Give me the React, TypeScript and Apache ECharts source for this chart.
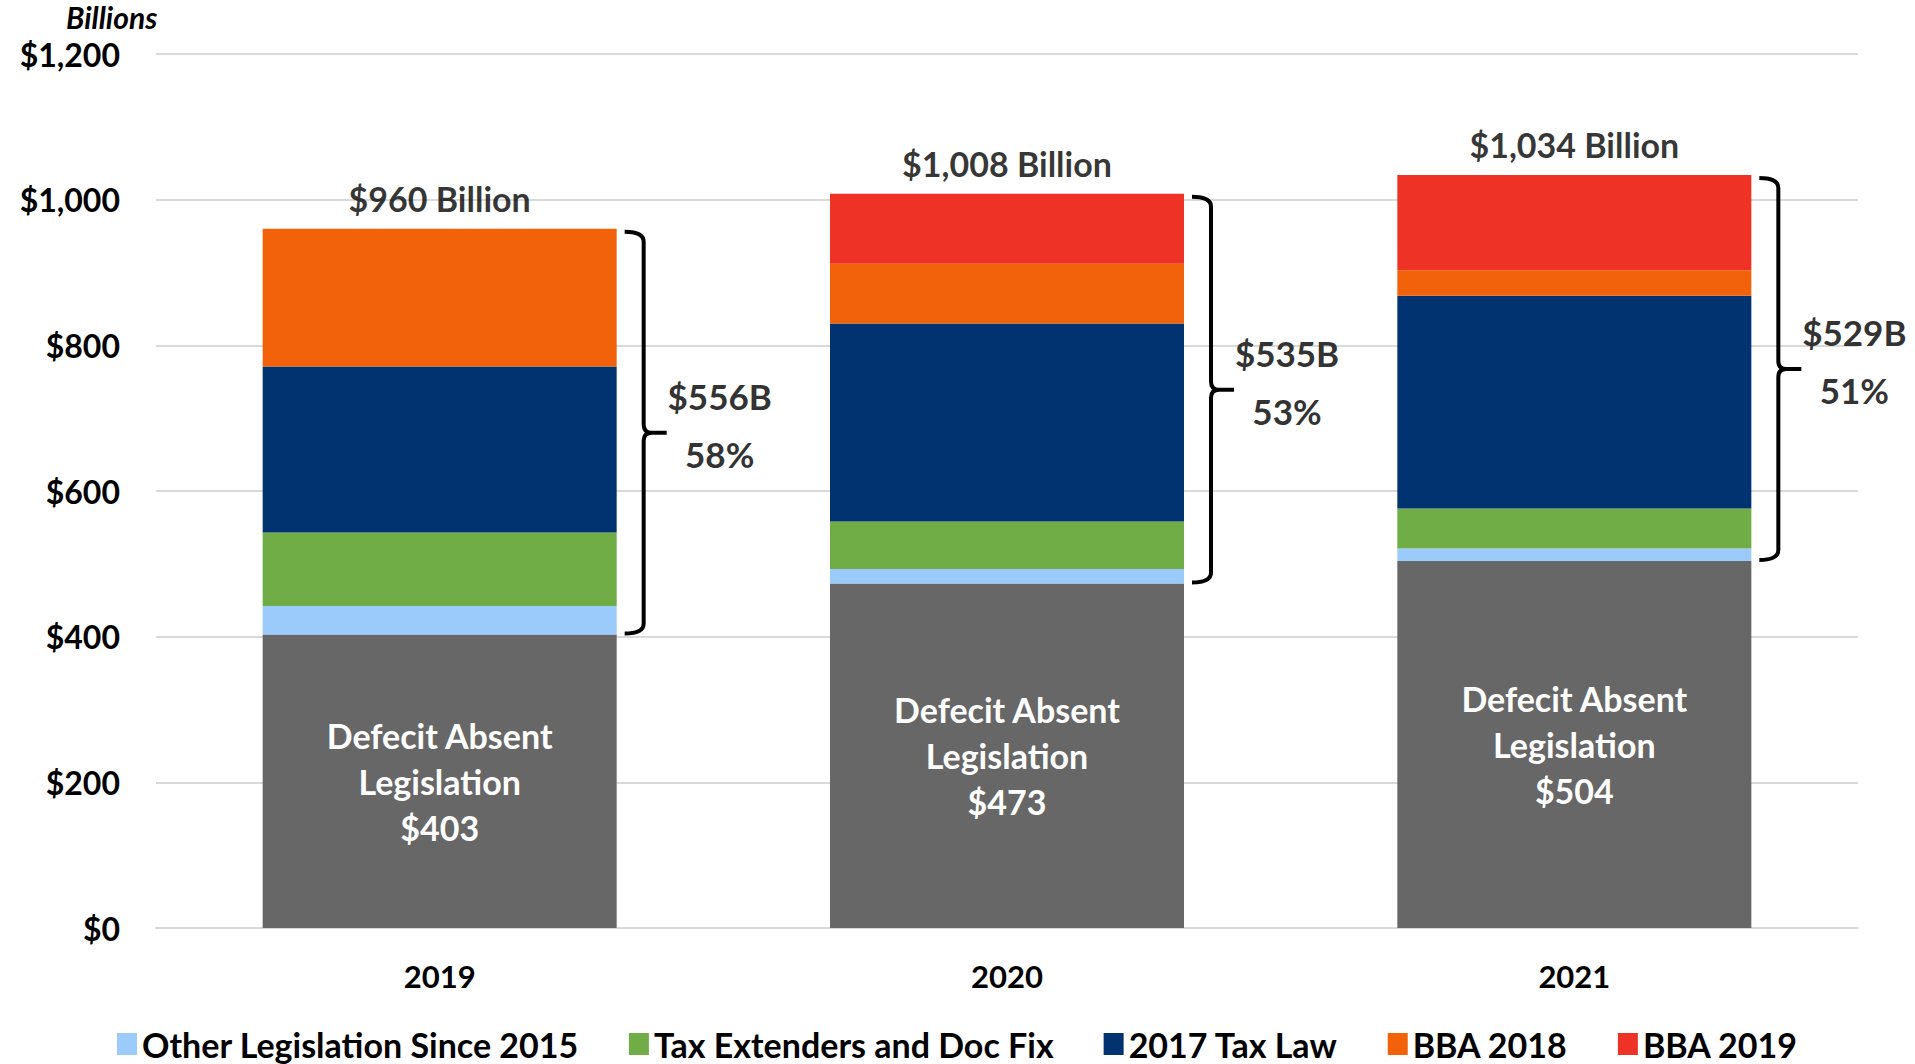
import React, { useEffect, useRef } from "react";
import * as echarts from "echarts";

const categories = ["2019", "2020", "2021"];
const seriesNames = [
  "Other Legislation Since 2015",
  "Tax Extenders and Doc Fix",
  "2017 Tax Law",
  "BBA 2018",
  "BBA 2019",
];
const baseline = [403, 473, 504];
const otherLegislation = [39, 20, 17];
const taxExtenders = [101, 65, 55];
const taxLaw2017 = [228, 272, 292];
const bba2018 = [189, 82, 35];
const bba2019 = [0, 96, 131];
const totals = [960, 1008, 1034];
const legislationTotals = [556, 535, 529];
const legislationShares = [58, 53, 51];
const yMax = 1200;
const yInterval = 200;

const FONT = "Lato, 'Open Sans', sans-serif";
const colors = ["#9ACBFB", "#70AD47", "#003370", "#F2620A", "#EE3326"];

export default function App() {
  const ref = useRef<HTMLDivElement>(null);

  useEffect(() => {
    if (!ref.current) return;
    const chart = echarts.init(ref.current, null, { renderer: "svg" });
    const layers = [otherLegislation, taxExtenders, taxLaw2017, bba2018, bba2019];

    const bracketData = categories.map((_, i) => [i, baseline[i], totals[i]]);

    const option: any = {
      animation: false,
      backgroundColor: "#ffffff",
      textStyle: { fontFamily: FONT },
      grid: { left: 156, right: 57, top: 54, bottom: 136 },
      legend: {
        data: seriesNames,
        left: "center",
        top: 1027,
        padding: 0,
        itemWidth: 20,
        itemHeight: 22,
        itemGap: 50,
        icon: "rect",
        textStyle: {
          fontSize: 34,
          lineHeight: 34,
          fontWeight: "bold",
          color: "#000",
          fontFamily: FONT,
        },
      },
      xAxis: {
        type: "category",
        data: categories,
        axisLine: { show: true, lineStyle: { color: "#d9d9d9", width: 2 } },
        axisTick: { show: false },
        axisLabel: { fontSize: 31, fontWeight: "bold", color: "#000", margin: 32, fontFamily: FONT },
      },
      yAxis: {
        type: "value",
        min: 0,
        max: yMax,
        interval: yInterval,
        axisLine: { show: false },
        axisTick: { show: false },
        splitLine: { lineStyle: { color: "#d9d9d9", width: 2 } },
        axisLabel: {
          fontSize: 32,
          fontWeight: "bold",
          color: "#000",
          margin: 36,
          fontFamily: FONT,
          formatter: (v: number) => "$" + v.toLocaleString("en-US"),
        },
      },
      graphic: [
        {
          type: "text",
          left: 66,
          top: 2,
          style: {
            text: "Billions",
            font: `italic bold 30px ${FONT}`,
            fill: "#000",
          },
        },
      ],
      series: [
        {
          name: "Defecit Absent Legislation",
          type: "bar",
          stack: "total",
          barWidth: "62.4%",
          data: baseline,
          itemStyle: { color: "#676767" },
          label: {
            show: true,
            position: "inside",
            color: "#fff",
            fontSize: 34,
            fontWeight: "bold",
            lineHeight: 46,
            fontFamily: FONT,
            formatter: (p: any) => `Defecit Absent\nLegislation\n$${p.value}`,
          },
        },
        ...layers.map((d, k) => ({
          name: seriesNames[k],
          type: "bar",
          stack: "total",
          barWidth: "62.4%",
          data: d,
          itemStyle: { color: colors[k] },
        })),
        {
          name: "Total",
          type: "scatter",
          data: totals,
          symbolSize: 1,
          itemStyle: { color: "rgba(0,0,0,0)" },
          label: {
            show: true,
            position: "top",
            distance: 13,
            color: "#000",
            fontSize: 34,
            fontWeight: "bold",
            fontFamily: FONT,
            formatter: (p: any) => "$" + totals[p.dataIndex].toLocaleString("en-US") + " Billion",
          },
          z: 5,
        },
        {
          name: "Bracket",
          type: "custom",
          clip: false,
          z: 6,
          data: bracketData,
          renderItem: (params: any, api: any) => {
            const i = params.dataIndex;
            const lo = api.value(1);
            const hi = api.value(2);
            const pTop = api.coord([i, hi]);
            const pBot = api.coord([i, lo]);
            const bw = api.size([1, 0])[0] * 0.624;
            const right = pTop[0] + bw / 2;
            const x0 = right + 8;
            const x1 = right + 27;
            const x2 = right + 50;
            const y0 = pTop[1] + 3;
            const y1 = pBot[1] - 1;
            const ym = (y0 + y1) / 2;
            const d =
              `M${x0} ${y0} Q${x1} ${y0} ${x1} ${y0 + 10} L${x1} ${ym - 8} Q${x1} ${ym} ${x1 + 8} ${ym} L${x2} ${ym} ` +
              `M${x1 + 8} ${ym} Q${x1} ${ym} ${x1} ${ym + 8} L${x1} ${y1 - 10} Q${x1} ${y1} ${x0} ${y1}`;
            const lx = right + 103;
            return {
              type: "group",
              children: [
                {
                  type: "path",
                  shape: { pathData: d },
                  style: { stroke: "#000", fill: "none", lineWidth: 4 },
                },
                {
                  type: "text",
                  x: lx,
                  y: ym - 37,
                  style: {
                    text: "$" + legislationTotals[i] + "B",
                    fill: "#333",
                    font: `bold 35px ${FONT}`,
                    align: "center",
                    verticalAlign: "middle",
                  },
                },
                {
                  type: "text",
                  x: lx,
                  y: ym + 21,
                  style: {
                    text: legislationShares[i] + "%",
                    fill: "#333",
                    font: `bold 35px ${FONT}`,
                    align: "center",
                    verticalAlign: "middle",
                  },
                },
              ],
            };
          },
        },
      ],
    };

    chart.setOption(option);
    return () => chart.dispose();
  }, []);

  return (
    <div
      ref={ref}
      style={{ position: "fixed", left: 0, top: 0, width: 1915, height: 1064 }}
    />
  );
}
